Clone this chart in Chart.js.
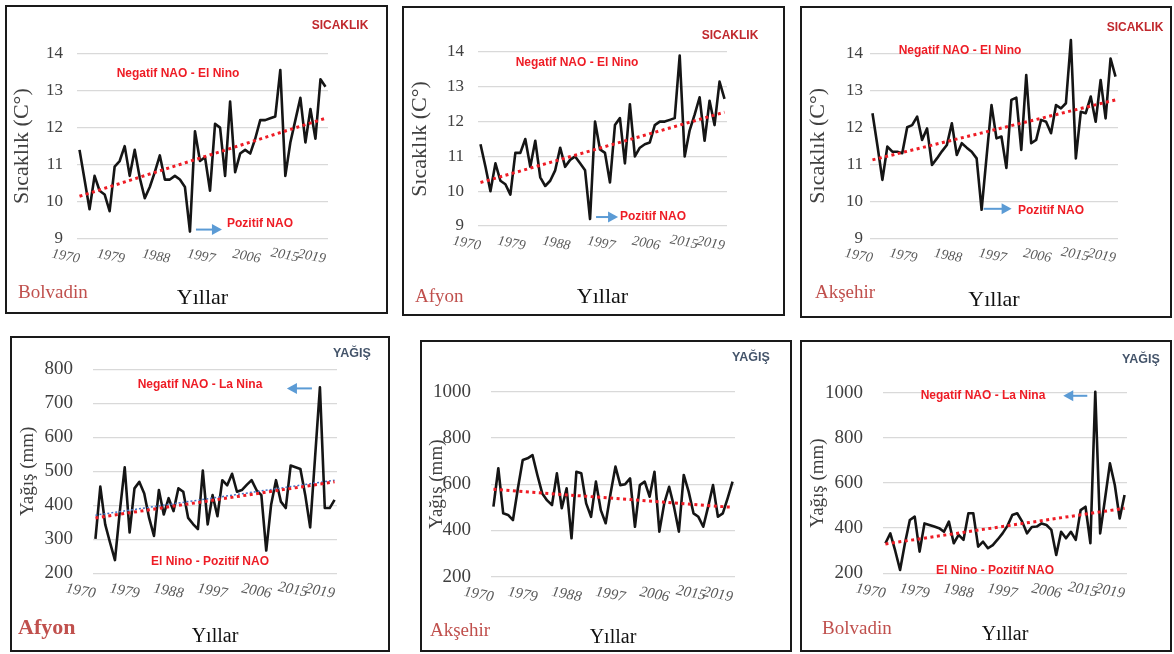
<!DOCTYPE html>
<html><head><meta charset="utf-8">
<script src="https://cdn.jsdelivr.net/npm/chart.js@4.4.1/dist/chart.umd.min.js"></script>
<style>
html,body{margin:0;padding:0;background:#fff;}
body{width:1174px;height:654px;position:relative;overflow:hidden;}
.panel{position:absolute;border:2px solid #1a1a1a;box-sizing:border-box;pointer-events:none;}
canvas.c{position:absolute;}
.t{position:absolute;white-space:nowrap;line-height:1;}
.ann{font:bold 12px "Liberation Sans",Arial,sans-serif;color:#ee1c25;}
.sic{font:bold 12px "Liberation Sans",Arial,sans-serif;color:#c0282d;}
.yag{font:bold 12.5px "Liberation Sans",Arial,sans-serif;color:#44546a;}
.st{font:19px "Liberation Serif","Times New Roman",serif;color:#c0504d;}
.stbig{font:bold 22px "Liberation Serif","Times New Roman",serif;color:#c0504d;}
</style></head>
<body>
<script>
// ---------------- DATA ----------------
const years = ['1970','1971','1972','1973','1974','1975','1976','1977','1978','1979',
  '1980','1981','1982','1983','1984','1985','1986','1987','1988','1989',
  '1990','1991','1992','1993','1994','1995','1996','1997','1998','1999',
  '2000','2001','2002','2003','2004','2005','2006','2007','2008','2009',
  '2010','2011','2012','2013','2014','2015','2016','2017','2018','2019'];
const tickYears = ['1970','1979','1988','1997','2006','2015','2019'];

// Sıcaklık (°C)
const bolvadinTemp = [11.4,10.6,9.8,10.7,10.3,10.2,9.75,10.95,11.1,11.5,
  10.7,11.4,10.65,10.1,10.4,10.8,11.25,10.6,10.6,10.7,
  10.6,10.4,9.2,11.9,11.1,11.2,10.3,12.1,12.0,10.7,
  12.7,10.8,11.3,11.4,11.3,11.7,12.2,12.2,12.25,12.3,
  13.55,10.7,11.6,12.2,12.8,11.6,12.5,11.7,13.3,13.1];
const afyonTemp = [11.35,10.7,10.0,10.8,10.3,10.2,9.9,11.1,11.1,11.5,
  10.7,11.45,10.4,10.15,10.3,10.6,11.25,10.7,10.9,11.0,
  10.8,10.6,9.2,12.0,11.2,11.1,10.25,11.9,12.1,10.8,
  12.5,11.0,11.25,11.35,11.4,11.9,12.0,12.0,12.05,12.1,
  13.9,11.0,11.75,12.2,12.7,11.45,12.6,11.9,13.15,12.65];
const aksehirTemp = [12.38,11.5,10.58,11.48,11.34,11.34,11.3,12.0,12.06,12.29,
  11.66,11.97,10.98,11.16,11.35,11.52,12.11,11.25,11.57,11.45,
  11.34,11.16,9.77,11.2,12.6,11.7,11.75,10.9,12.74,12.8,
  11.39,13.41,11.57,11.66,12.2,12.15,11.84,12.6,12.51,12.65,
  14.36,11.16,12.42,12.38,12.83,12.15,13.28,12.24,13.86,13.37];

// Yağış (mm)
const afyonRain = [301,455,344,290,239,383,512,320,450,469,
  435,363,310,445,373,421,383,450,440,363,
  345,330,502,344,430,368,474,459,493,440,
  445,460,474,445,430,267,402,474,411,392,
  517,512,507,430,335,540,747,392,392,416];
const aksehirRain = [503,669,474,467,445,580,705,712,726,640,
  560,530,510,647,496,582,366,654,647,517,
  459,611,488,431,560,676,596,600,625,416,
  596,611,546,654,395,517,589,503,395,640,
  568,474,459,416,503,596,459,474,540,611];
const bolvadinRain = [333,377,300,215,333,436,451,296,421,414,
  407,400,384,429,333,370,348,466,466,318,
  340,311,325,350,377,410,458,466,430,377,
  405,407,421,414,392,281,384,355,384,348,
  480,495,333,1004,377,530,687,591,443,547];

// Trend line end values (1970, 2019)
const trendBolvadinTemp = [10.15, 12.25];
const trendAfyonTemp = [10.25, 12.27];
const trendAksehirTemp = [11.12, 12.74];
const trendAfyonRain = [363, 469];
const trendAfyonRainBlue = [371, 474];
const trendAksehirRain = [578, 500];
const trendBolvadinRain = [330, 488];

// ---------------- DRAWING ----------------
const RED = '#ee1c25', BLUE = '#5b9bd5';

const arrowPlugin = {
  id: 'arrowNote',
  afterDatasetsDraw(chart, args, opts) {
    if (!opts || opts.index === undefined || opts.index === null) return;
    const meta = chart.getDatasetMeta(chart.data.datasets.length - 1);
    const pt = meta.data[opts.index];
    if (!pt) return;
    const ctx = chart.ctx;
    const x0 = pt.x + opts.dx, y0 = pt.y + opts.dy;
    const x1 = x0 + opts.dir * opts.len;
    ctx.save();
    ctx.strokeStyle = BLUE; ctx.fillStyle = BLUE; ctx.lineWidth = 2;
    ctx.beginPath(); ctx.moveTo(x0, y0); ctx.lineTo(x1 - opts.dir * 8, y0); ctx.stroke();
    ctx.beginPath(); ctx.moveTo(x1, y0);
    ctx.lineTo(x1 - opts.dir * 10, y0 - 5.5); ctx.lineTo(x1 - opts.dir * 10, y0 + 5.5);
    ctx.closePath(); ctx.fill();
    ctx.restore();
  }
};

function trendSeries(ends) {
  const arr = years.map(() => null);
  arr[0] = ends[0]; arr[arr.length - 1] = ends[1];
  return arr;
}

function makeChart(cfg) {
  const [bl, bt, br, bb] = cfg.box;
  const [pl, pt, pr, pb] = cfg.plot;
  const cl = bl + 2, ct = bt + 2, cw = br - bl - 4, ch = bb - bt - 4;
  const yLH = cfg.yTitleSize * 1.2;
  const yScaleLeft = cfg.yTitleX - yLH / 2;
  const yAxisW = pl - yScaleLeft;
  const padL = Math.max(0, yScaleLeft - cl);
  const xLH = cfg.xTitleSize * 1.2;
  const xAxisH = cfg.xTitleY + xLH / 2 - pb;
  const padB = Math.max(0, (ct + ch) - (pb + xAxisH));
  const padT = pt - ct;
  const padR = (cl + cw) - pr;

  const cv = document.createElement('canvas');
  cv.className = 'c';
  cv.width = cw; cv.height = ch;
  cv.style.left = cl + 'px'; cv.style.top = ct + 'px';
  cv.style.width = cw + 'px'; cv.style.height = ch + 'px';
  document.body.appendChild(cv);

  const datasets = cfg.trends.map(t => ({
    data: trendSeries(t.ends), borderColor: t.color, borderWidth: t.width,
    borderDash: t.dash, spanGaps: true, pointRadius: 0, fill: false, tension: 0
  }));
  datasets.push({
    data: cfg.series, borderColor: '#151515', borderWidth: 2.6,
    pointRadius: 0, fill: false, tension: 0, clip: false, borderJoinStyle: 'round'
  });

  new Chart(cv, {
    type: 'line',
    data: { labels: years, datasets },
    plugins: [arrowPlugin],
    options: {
      responsive: false, animation: false, devicePixelRatio: 1,
      layout: { padding: { left: padL, right: padR, top: padT, bottom: padB } },
      plugins: { legend: { display: false }, tooltip: { enabled: false },
        arrowNote: cfg.arrow || false },
      scales: {
        x: {
          type: 'category', offset: true,
          grid: { display: false }, border: { display: false },
          ticks: {
            autoSkip: false, minRotation: -11, maxRotation: -11, padding: 4,
            color: '#595959',
            font: { family: '"Liberation Serif","Times New Roman",serif', size: cfg.xTickSize, style: 'italic' },
            callback: (v, i) => tickYears.includes(years[i]) ? (years[i] === '2015' ? '2015\u2002' : years[i]) : ''
          },
          title: { display: true, text: 'Yıllar', color: '#111', padding: 0,
            font: { family: '"Liberation Serif","Times New Roman",serif', size: cfg.xTitleSize, lineHeight: 1.2 } },
          afterFit: s => { s.height = xAxisH; }
        },
        y: {
          min: cfg.yMin, max: cfg.yMax,
          ticks: { stepSize: cfg.yStep, padding: cfg.yTickPad, color: '#404040',
            callback: v => String(v),
            font: { family: '"Liberation Serif","Times New Roman",serif', size: cfg.yTickSize } },
          grid: { color: '#d9d9d9', lineWidth: 1.3, drawTicks: false },
          border: { display: false },
          title: { display: true, text: cfg.yTitle, color: '#404040', padding: 0,
            font: { family: '"Liberation Serif","Times New Roman",serif', size: cfg.yTitleSize, lineHeight: 1.2 } },
          afterFit: s => { s.width = yAxisW; }
        }
      }
    }
  });

  const border = document.createElement('div');
  border.className = 'panel';
  border.style.left = bl + 'px'; border.style.top = bt + 'px';
  border.style.width = (br - bl) + 'px'; border.style.height = (bb - bt) + 'px';
  document.body.appendChild(border);
}

const tempTrend = ends => [{ ends, color: RED, width: 3, dash: [3, 3.5] }];

makeChart({ box: [5, 5, 388, 314], plot: [77, 53.3, 328, 239],
  yTitle: 'Sıcaklık (C°)', yTitleX: 22, yTitleSize: 22, xTitleY: 298, xTitleSize: 22,
  yMin: 9, yMax: 14, yStep: 1, yTickSize: 17, yTickPad: 14, xTickSize: 14,
  series: bolvadinTemp, trends: tempTrend(trendBolvadinTemp),
  arrow: { index: 22, dx: 6, dy: -2, len: 26, dir: 1 } });

makeChart({ box: [402, 6, 785, 316], plot: [478, 52, 727, 226],
  yTitle: 'Sıcaklık (C°)', yTitleX: 420, yTitleSize: 22, xTitleY: 297, xTitleSize: 22,
  yMin: 9, yMax: 14, yStep: 1, yTickSize: 17, yTickPad: 14, xTickSize: 14,
  series: afyonTemp, trends: tempTrend(trendAfyonTemp),
  arrow: { index: 22, dx: 6, dy: -2, len: 22, dir: 1 } });

makeChart({ box: [800, 6, 1172, 318], plot: [870, 53.3, 1118, 238.3],
  yTitle: 'Sıcaklık (C°)', yTitleX: 818, yTitleSize: 22, xTitleY: 300, xTitleSize: 22,
  yMin: 9, yMax: 14, yStep: 1, yTickSize: 17, yTickPad: 7, xTickSize: 14,
  series: aksehirTemp, trends: tempTrend(trendAksehirTemp),
  arrow: { index: 22, dx: 2, dy: -1, len: 28, dir: 1 } });

makeChart({ box: [10, 336, 390, 652], plot: [93, 365, 337, 573.3],
  yTitle: 'Yağış (mm)', yTitleX: 28, yTitleSize: 19, xTitleY: 637, xTitleSize: 20,
  yMin: 200, yMax: 800, yStep: 100, yTickSize: 19, yTickPad: 20, xTickSize: 15,
  series: afyonRain,
  trends: [{ ends: trendAfyonRain, color: RED, width: 3, dash: [3, 3.5] },
           { ends: trendAfyonRainBlue, color: '#4472c4', width: 1.5, dash: [2, 2] }],
  arrow: { index: 46, dx: -8, dy: 1, len: 25, dir: -1 } });

makeChart({ box: [420, 340, 792, 652], plot: [491, 391.7, 735, 576.7],
  yTitle: 'Yağış (mm)', yTitleX: 437, yTitleSize: 19, xTitleY: 638, xTitleSize: 20,
  yMin: 200, yMax: 1000, yStep: 200, yTickSize: 19, yTickPad: 20, xTickSize: 15,
  series: aksehirRain, trends: tempTrend(trendAksehirRain) });

makeChart({ box: [800, 340, 1172, 652], plot: [883, 392.7, 1127, 573.3],
  yTitle: 'Yağış (mm)', yTitleX: 818, yTitleSize: 19, xTitleY: 635, xTitleSize: 20,
  yMin: 200, yMax: 1000, yStep: 200, yTickSize: 19, yTickPad: 20, xTickSize: 15,
  series: bolvadinRain, trends: tempTrend(trendBolvadinRain),
  arrow: { index: 43, dx: -8, dy: 4, len: 24, dir: -1 } });

// ---------------- TEXT NOTES ----------------
const notes = [
  ['SICAKLIK', 'sic', 340, 25, 'c'], ['SICAKLIK', 'sic', 730, 35, 'c'], ['SICAKLIK', 'sic', 1135, 27, 'c'],
  ['YAĞIŞ', 'yag', 352, 353, 'c'], ['YAĞIŞ', 'yag', 751, 357, 'c'], ['YAĞIŞ', 'yag', 1141, 359, 'c'],
  ['Negatif NAO - El Nino', 'ann', 178, 73, 'c'], ['Negatif NAO - El Nino', 'ann', 577, 62, 'c'],
  ['Negatif NAO - El Nino', 'ann', 960, 50, 'c'],
  ['Pozitif NAO', 'ann', 227, 223, 'l'], ['Pozitif NAO', 'ann', 620, 216, 'l'], ['Pozitif NAO', 'ann', 1018, 210, 'l'],
  ['Negatif NAO - La Nina', 'ann', 200, 384, 'c'], ['Negatif NAO - La Nina', 'ann', 983, 395, 'c'],
  ['El Nino - Pozitif NAO', 'ann', 210, 561, 'c'], ['El Nino - Pozitif NAO', 'ann', 995, 570, 'c'],
  ['Bolvadin', 'st', 18, 292, 'l'], ['Afyon', 'st', 415, 296, 'l'], ['Akşehir', 'st', 815, 292, 'l'],
  ['Afyon', 'stbig', 18, 627, 'l'], ['Akşehir', 'st', 430, 630, 'l'], ['Bolvadin', 'st', 822, 628, 'l']
];
notes.forEach(([txt, cls, x, y, a]) => {
  const d = document.createElement('div');
  d.className = 't ' + cls;
  d.textContent = txt;
  d.style.left = x + 'px'; d.style.top = y + 'px';
  d.style.transform = a === 'c' ? 'translate(-50%,-50%)' : 'translate(0,-50%)';
  document.body.appendChild(d);
});
</script>
</body></html>
